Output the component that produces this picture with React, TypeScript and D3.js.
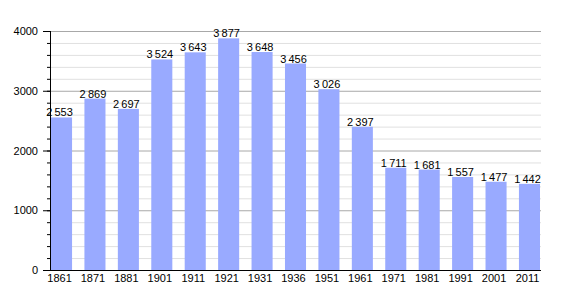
import React, { useRef, useEffect } from 'react';
import * as d3 from 'd3';

// census years and population
const years = ['1861', '1871', '1881', '1901', '1911', '1921', '1931', '1936', '1951', '1961', '1971', '1981', '1991', '2001', '2011'];
const population = [2553, 2869, 2697, 3524, 3643, 3877, 3648, 3456, 3026, 2397, 1711, 1681, 1557, 1477, 1442];
const majorTicks = [0, 1000, 2000, 3000, 4000];
const minorTicks = d3.range(0, 4001, 200);

const fmt = (v: number) => {
  const s = String(v);
  return s.length > 3 ? s.slice(0, s.length - 3) + '\u2009' + s.slice(-3) : s;
};

const App = () => {
  const ref = useRef<SVGSVGElement | null>(null);

  useEffect(() => {
    const width = 570;
    const height = 300;
    const left = 50;
    const right = 541;
    const top = 31;
    const bottom = 270;

    const svg = d3.select(ref.current);
    svg.selectAll('*').remove();
    svg.attr('width', width).attr('height', height);

    // bars run from the axis to the right edge of the plot
    const x = d3.scaleBand()
      .domain(years)
      .range([51, 540])
      .paddingInner(0.37)
      .paddingOuter(0)
      .align(0);

    const y = d3.scaleLinear().domain([0, 4000]).range([bottom, top]);

    // minor grid lines
    svg.append('g')
      .selectAll('line')
      .data(minorTicks.filter(t => t % 1000 !== 0))
      .enter()
      .append('line')
      .attr('x1', left)
      .attr('x2', right)
      .attr('y1', d => y(d) + 0.5)
      .attr('y2', d => y(d) + 0.5)
      .attr('stroke', '#e0e0e0');

    // major grid lines
    svg.append('g')
      .selectAll('line')
      .data(majorTicks.filter(t => t > 0))
      .enter()
      .append('line')
      .attr('x1', left)
      .attr('x2', right)
      .attr('y1', d => y(d) + 0.5)
      .attr('y2', d => y(d) + 0.5)
      .attr('stroke', '#a8a8a8');

    // bars
    svg.append('g')
      .selectAll('rect')
      .data(population)
      .enter()
      .append('rect')
      .attr('x', (d, i) => x(years[i]) as number)
      .attr('y', d => y(d))
      .attr('width', x.bandwidth())
      .attr('height', d => bottom - y(d))
      .attr('fill', '#99aaff');

    // value labels
    svg.append('g')
      .selectAll('text')
      .data(population)
      .enter()
      .append('text')
      .attr('x', (d, i) => (x(years[i]) as number) + x.bandwidth() / 2 - 2)
      .attr('y', d => y(d) - 1)
      .attr('text-anchor', 'middle')
      .attr('font-family', 'Liberation Sans, Arial, sans-serif')
      .attr('font-size', 11)
      .attr('fill', '#000')
      .text(d => fmt(d));

    // y axis ticks
    const yAxis = svg.append('g');
    yAxis.selectAll('line.minor')
      .data(minorTicks)
      .enter()
      .append('line')
      .attr('x1', left - 3)
      .attr('x2', left)
      .attr('y1', d => y(d) + 0.5)
      .attr('y2', d => y(d) + 0.5)
      .attr('stroke', '#000');
    yAxis.selectAll('line.major')
      .data(majorTicks)
      .enter()
      .append('line')
      .attr('x1', left - 7)
      .attr('x2', left)
      .attr('y1', d => y(d) + 0.5)
      .attr('y2', d => y(d) + 0.5)
      .attr('stroke', '#000');
    yAxis.selectAll('text')
      .data(majorTicks)
      .enter()
      .append('text')
      .attr('x', 38)
      .attr('y', d => y(d) + 4)
      .attr('text-anchor', 'end')
      .attr('font-family', 'Liberation Sans, Arial, sans-serif')
      .attr('font-size', 11)
      .text(d => d);

    // axis lines
    svg.append('line')
      .attr('x1', left + 0.5).attr('x2', left + 0.5)
      .attr('y1', top).attr('y2', bottom + 1)
      .attr('stroke', '#000');
    svg.append('line')
      .attr('x1', left).attr('x2', right)
      .attr('y1', bottom + 0.5).attr('y2', bottom + 0.5)
      .attr('stroke', '#000');

    // x labels
    svg.append('g')
      .selectAll('text')
      .data(years)
      .enter()
      .append('text')
      .attr('x', d => (x(d) as number) + x.bandwidth() / 2 - 2)
      .attr('y', 282)
      .attr('text-anchor', 'middle')
      .attr('font-family', 'Liberation Sans, Arial, sans-serif')
      .attr('font-size', 11)
      .text(d => d);
  }, []);

  return (
    <svg ref={ref} style={{ position: 'absolute', left: 0, top: 0, background: '#fff' }}></svg>
  );
};

export default App;
